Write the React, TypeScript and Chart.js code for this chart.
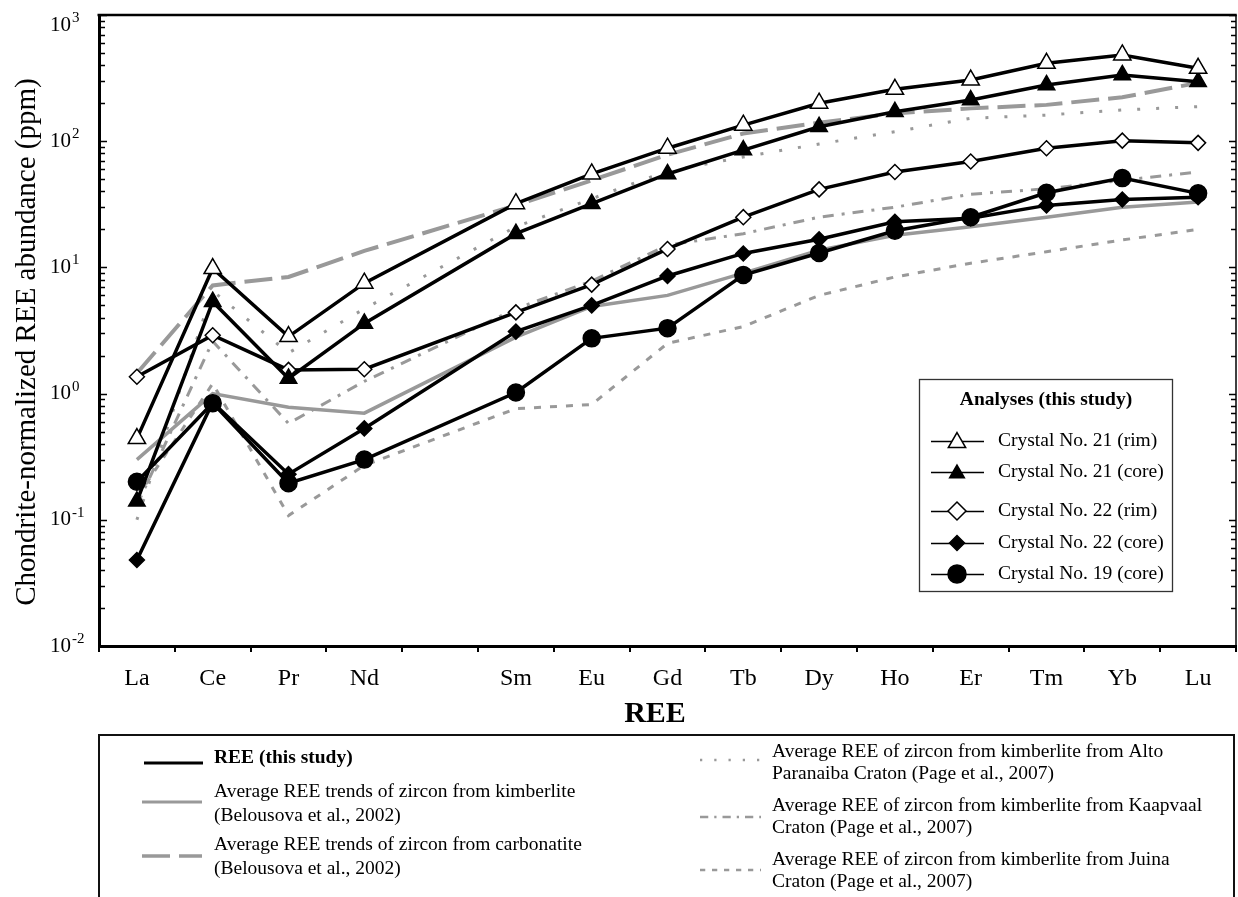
import React, { useEffect, useRef } from "react";
import { Chart, registerables } from "chart.js";

Chart.register(...registerables);

const W = 1238;
const H = 897;
const SERIF = '"Liberation Serif", "Times New Roman", "DejaVu Serif", serif';

// Lanthanide sequence; Pm keeps its slot on the axis but carries no data
const ELEMENTS = ["La", "Ce", "Pr", "Nd", "Pm", "Sm", "Eu", "Gd", "Tb", "Dy", "Ho", "Er", "Tm", "Yb", "Lu"];
const ELEMENT_TICK_LABELS = ["La", "Ce", "Pr", "Nd", "", "Sm", "Eu", "Gd", "Tb", "Dy", "Ho", "Er", "Tm", "Yb", "Lu"];

const Y_MIN = 0.01;
const Y_MAX = 1000;

// Chondrite-normalized REE, zircon analyses (this study)
const CRYSTAL_21_RIM = [0.44, 9.8, 2.83, 7.5, null, 32, 55, 88, 134, 200, 258, 305, 414, 482, 378];
const CRYSTAL_21_CORE = [0.14, 5.35, 1.32, 3.6, null, 18.5, 32, 55, 85, 130, 171, 212, 279, 335, 296];
const CRYSTAL_22_RIM = [1.36, 2.9, 1.54, 1.56, null, 4.4, 7.3, 14, 25, 41.5, 57, 69, 88, 101, 97];
const CRYSTAL_22_CORE = [0.048, 0.85, 0.23, 0.53, null, 3.1, 5.0, 8.55, 12.9, 16.7, 23, 24.5, 31, 34.5, 36];
const CRYSTAL_19_CORE = [0.2, 0.84, 0.195, 0.3, null, 1.02, 2.74, 3.3, 8.7, 13, 19.5, 25, 39, 51, 38.6];

// Literature averages
const KIMBERLITE_BELOUSOVA = [0.3, 1.0, 0.78, 0.7, null, 2.8, 4.9, 6.0, 9.0, 13.7, 18, 21, 25, 30, 33];
const CARBONATITE_BELOUSOVA = [1.45, 7.2, 8.4, 13.5, null, 31, 49, 78, 115, 140, 166, 182, 194, 223, 290];
const ALTO_PARANAIBA_PAGE = [0.1, 6.5, 2.1, 4.7, null, 21, 35, 58, 75, 95, 119, 152, 161, 177, 188];
const KAAPVAAL_PAGE = [0.13, 2.6, 0.58, 1.25, null, 4.7, 7.8, 15, 18.5, 25, 30, 38, 42, 49, 57];
const JUINA_PAGE = [0.15, 1.2, 0.108, 0.27, null, 0.76, 0.82, 2.5, 3.4, 6.0, 8.4, 10.8, 13.3, 16.5, 20];

const BLACK = "#000000";
const GRAY = "#999999";

type Marker = "triangle" | "rectRot" | "circle";

const ANALYSES: { label: string; data: (number | null)[]; marker: Marker; filled: boolean; radius: number; legendRadius: number }[] = [
  { label: "Crystal No. 21 (rim)", data: CRYSTAL_21_RIM, marker: "triangle", filled: false, radius: 10, legendRadius: 10 },
  { label: "Crystal No. 21 (core)", data: CRYSTAL_21_CORE, marker: "triangle", filled: true, radius: 9.5, legendRadius: 8.5 },
  { label: "Crystal No. 22 (rim)", data: CRYSTAL_22_RIM, marker: "rectRot", filled: false, radius: 7.5, legendRadius: 9 },
  { label: "Crystal No. 22 (core)", data: CRYSTAL_22_CORE, marker: "rectRot", filled: true, radius: 7.5, legendRadius: 7.5 },
  { label: "Crystal No. 19 (core)", data: CRYSTAL_19_CORE, marker: "circle", filled: true, radius: 8.5, legendRadius: 9 },
];

const REFERENCES: { lines: string[]; data: (number | null)[]; dash: number[]; width: number }[] = [
  { lines: ["Average REE trends of zircon from kimberlite", "(Belousova et al., 2002)"], data: KIMBERLITE_BELOUSOVA, dash: [], width: 3.5 },
  { lines: ["Average REE trends of zircon from carbonatite", "(Belousova et al., 2002)"], data: CARBONATITE_BELOUSOVA, dash: [28, 9], width: 4 },
  { lines: ["Average REE of zircon from kimberlite from Alto", "Paranaiba Craton (Page et al., 2007)"], data: ALTO_PARANAIBA_PAGE, dash: [3, 16], width: 3 },
  { lines: ["Average REE of zircon from kimberlite from Kaapvaal", "Craton (Page et al., 2007)"], data: KAAPVAAL_PAGE, dash: [11, 8, 3, 8], width: 3 },
  { lines: ["Average REE of zircon from kimberlite from Juina", "Craton (Page et al., 2007)"], data: JUINA_PAGE, dash: [7, 9], width: 3 },
];

function drawMarker(ctx: CanvasRenderingContext2D, marker: Marker, x: number, y: number, r: number, filled: boolean) {
  ctx.beginPath();
  if (marker === "triangle") {
    ctx.moveTo(x, y - r);
    ctx.lineTo(x + 0.866 * r, y + 0.5 * r);
    ctx.lineTo(x - 0.866 * r, y + 0.5 * r);
    ctx.closePath();
  } else if (marker === "rectRot") {
    ctx.moveTo(x - r, y);
    ctx.lineTo(x, y - r);
    ctx.lineTo(x + r, y);
    ctx.lineTo(x, y + r);
    ctx.closePath();
  } else {
    ctx.arc(x, y, r, 0, Math.PI * 2);
  }
  ctx.fillStyle = filled ? BLACK : "#ffffff";
  ctx.fill();
  ctx.lineWidth = 1.5;
  ctx.strokeStyle = BLACK;
  ctx.setLineDash([]);
  ctx.stroke();
}

const framePlugin = {
  id: "reeFrame",
  afterDraw(chart: any) {
    const { ctx, chartArea: a, scales } = chart;
    const ys = scales.y;
    ctx.save();

    // closing frame: top and right edges
    ctx.strokeStyle = BLACK;
    ctx.setLineDash([]);
    ctx.lineWidth = 2.5;
    ctx.beginPath();
    ctx.moveTo(a.left - 1.5, a.top);
    ctx.lineTo(a.right + 0.75, a.top);
    ctx.stroke();
    ctx.lineWidth = 1.5;
    ctx.beginPath();
    ctx.moveTo(a.right, a.top);
    ctx.lineTo(a.right, a.bottom);
    ctx.stroke();

    // logarithmic tick marks on both vertical edges, pointing inward
    const lo = Math.round(Math.log10(Y_MIN));
    const hi = Math.round(Math.log10(Y_MAX));
    ctx.lineWidth = 1.5;
    for (let e = lo; e <= hi; e++) {
      for (let m = 1; m <= 9; m++) {
        if (e === hi && m > 1) break;
        const py = Math.round(ys.getPixelForValue(m * Math.pow(10, e))) + 0.5;
        const len = m === 1 ? 7 : 5;
        ctx.beginPath();
        ctx.moveTo(a.left + 1, py);
        ctx.lineTo(a.left + 1 + len, py);
        ctx.moveTo(a.right, py);
        ctx.lineTo(a.right - len, py);
        ctx.stroke();
      }
    }

    // decade labels with superscript exponents
    ctx.fillStyle = BLACK;
    ctx.textAlign = "left";
    ctx.textBaseline = "middle";
    for (let e = lo; e <= hi; e++) {
      const py = Math.max(ys.getPixelForValue(Math.pow(10, e)), a.top + 10);
      ctx.font = `21px ${SERIF}`;
      ctx.fillText("10", 50, py);
      const w = ctx.measureText("10").width;
      ctx.font = `15px ${SERIF}`;
      ctx.fillText(String(e), 50 + w + 1, py - 7);
    }

    // y-axis title
    ctx.save();
    ctx.translate(35, 342);
    ctx.rotate(-Math.PI / 2);
    ctx.textAlign = "center";
    ctx.textBaseline = "alphabetic";
    ctx.font = `29px ${SERIF}`;
    ctx.fillText("Chondrite-normalized REE abundance (ppm)", 0, 0);
    ctx.restore();

    // x-axis title
    ctx.textAlign = "center";
    ctx.textBaseline = "alphabetic";
    ctx.font = `bold 30px ${SERIF}`;
    ctx.fillText("REE", 655, 722);

    // legend of analyses inside the plot
    ctx.fillStyle = "#ffffff";
    ctx.fillRect(919, 379, 253, 212);
    ctx.strokeStyle = "#333333";
    ctx.lineWidth = 1.3;
    ctx.strokeRect(919.5, 379.5, 253, 212);
    ctx.fillStyle = BLACK;
    ctx.textAlign = "center";
    ctx.textBaseline = "middle";
    ctx.font = `bold 19.5px ${SERIF}`;
    ctx.fillText("Analyses (this study)", 1046, 400);
    const rowY = [441, 472, 511, 543, 574];
    ANALYSES.forEach((s, i) => {
      const yy = rowY[i];
      ctx.strokeStyle = BLACK;
      ctx.lineWidth = 1.3;
      ctx.setLineDash([]);
      ctx.beginPath();
      ctx.moveTo(931, yy + 0.5);
      ctx.lineTo(984, yy + 0.5);
      ctx.stroke();
      drawMarker(ctx, s.marker, 957, yy + (s.marker === "triangle" ? 1.5 : 0), s.legendRadius, s.filled);
      ctx.fillStyle = BLACK;
      ctx.textAlign = "left";
      ctx.font = `19.5px ${SERIF}`;
      ctx.fillText(s.label, 998, yy);
    });

    // legend of line styles below the plot
    ctx.strokeStyle = "#111111";
    ctx.lineWidth = 2;
    ctx.strokeRect(99, 735, 1135, 200);
    const sample = (x0: number, x1: number, yy: number, color: string, width: number, dash: number[]) => {
      ctx.strokeStyle = color;
      ctx.lineWidth = width;
      ctx.lineCap = "butt";
      ctx.setLineDash(dash);
      ctx.beginPath();
      ctx.moveTo(x0, yy);
      ctx.lineTo(x1, yy);
      ctx.stroke();
      ctx.setLineDash([]);
    };
    ctx.textAlign = "left";
    ctx.textBaseline = "middle";
    sample(144, 203, 763, BLACK, 3, []);
    ctx.fillStyle = BLACK;
    ctx.font = `bold 19.5px ${SERIF}`;
    ctx.fillText("REE (this study)", 214, 758);

    const leftCol = [
      { ref: REFERENCES[0], y: 792, sy: 802 },
      { ref: REFERENCES[1], y: 845, sy: 856 },
    ];
    const rightCol = [
      { ref: REFERENCES[2], y: 752, sy: 760 },
      { ref: REFERENCES[3], y: 806, sy: 817 },
      { ref: REFERENCES[4], y: 860, sy: 870 },
    ];
    ctx.font = `19.5px ${SERIF}`;
    leftCol.forEach((it) => {
      sample(142, 202, it.sy, GRAY, it.ref.width - 0.5, it.ref.dash);
      ctx.fillStyle = BLACK;
      it.ref.lines.forEach((t, k) => ctx.fillText(t, 214, it.y + k * 23.5));
    });
    rightCol.forEach((it) => {
      sample(700, 761, it.sy, GRAY, 2.5, it.ref.dash.map((d) => Math.max(2, d * 0.75)));
      ctx.fillStyle = BLACK;
      it.ref.lines.forEach((t, k) => ctx.fillText(t, 772, it.y + k * 22));
    });

    ctx.restore();
  },
};

export default function App() {
  const canvasRef = useRef<HTMLCanvasElement | null>(null);

  useEffect(() => {
    const canvas = canvasRef.current;
    if (!canvas) return;

    const datasets: any[] = [
      ...ANALYSES.map((s) => ({
        label: s.label,
        data: s.data,
        borderColor: BLACK,
        borderWidth: 3.5,
        pointStyle: s.marker,
        pointRadius: s.radius,
        pointBackgroundColor: s.filled ? BLACK : "#ffffff",
        pointBorderColor: BLACK,
        pointBorderWidth: 1.5,
        spanGaps: true,
        tension: 0,
        order: 1,
      })),
      ...REFERENCES.map((r) => ({
        label: r.lines.join(" "),
        data: r.data,
        borderColor: GRAY,
        borderWidth: r.width,
        borderDash: r.dash,
        borderCapStyle: "butt",
        pointRadius: 0,
        spanGaps: true,
        tension: 0,
        order: 2,
      })),
    ];

    const chart = new Chart(canvas, {
      type: "line",
      data: { labels: ELEMENTS, datasets },
      options: {
        responsive: false,
        animation: false,
        devicePixelRatio: 1,
        layout: { autoPadding: false, padding: { top: 15, right: 2, left: 0, bottom: 0 } },
        plugins: { legend: { display: false }, tooltip: { enabled: false } },
        scales: {
          x: {
            type: "category",
            offset: true,
            grid: { offset: true, drawOnChartArea: false, drawTicks: true, tickLength: 6, color: BLACK, lineWidth: 2 },
            border: { display: true, color: BLACK, width: 3 },
            ticks: {
              color: BLACK,
              font: { family: SERIF, size: 24 },
              padding: 12,
              autoSkip: false,
              maxRotation: 0,
              callback: (_v: any, i: number) => ELEMENT_TICK_LABELS[i],
            },
            afterFit: (s: any) => {
              s.height = 251;
              s.paddingLeft = 0;
              s.paddingRight = 0;
            },
          },
          y: {
            type: "logarithmic",
            min: Y_MIN,
            max: Y_MAX,
            grid: { display: true, drawOnChartArea: false, drawTicks: false },
            border: { display: true, color: BLACK, width: 3 },
            ticks: { display: false },
            afterFit: (s: any) => {
              s.width = 99;
              s.paddingTop = 0;
              s.paddingBottom = 0;
            },
          },
        },
      } as any,
      plugins: [framePlugin],
    });

    return () => chart.destroy();
  }, []);

  return (
    <div style={{ position: "fixed", left: 0, top: 0, width: W, height: H, background: "#ffffff" }}>
      <canvas ref={canvasRef} width={W} height={H} style={{ display: "block" }} />
    </div>
  );
}
